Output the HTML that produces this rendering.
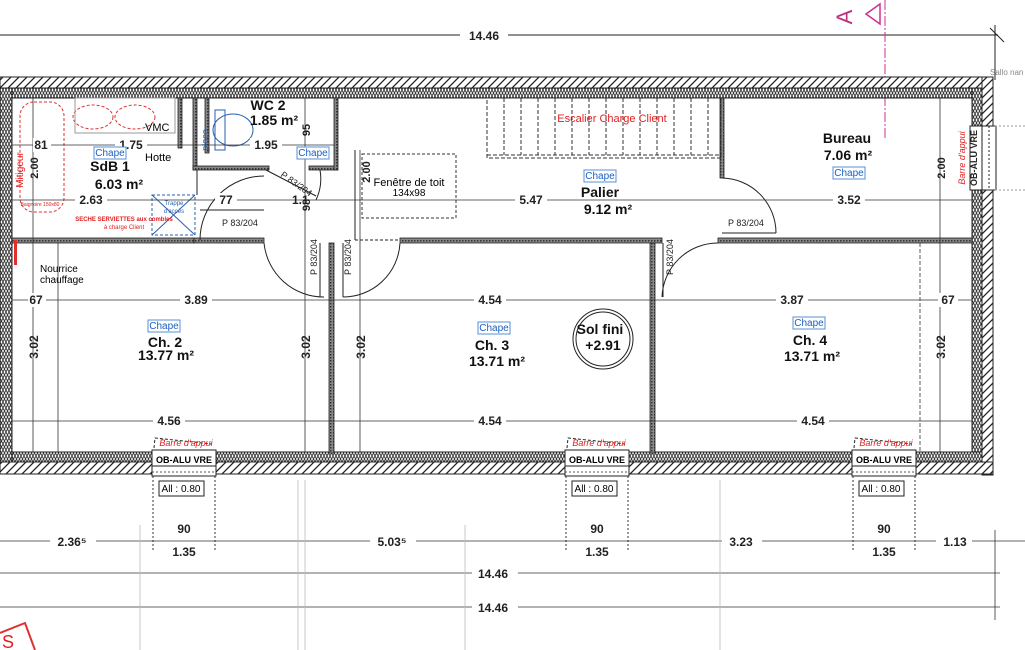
<!DOCTYPE html>
<html><head><meta charset="utf-8"><style>
html,body{margin:0;padding:0;background:#fff;}
svg{display:block;font-family:"Liberation Sans",Arial,sans-serif;}
.d{font-size:12px;font-weight:bold;fill:#222;}
.b{font-size:14px;font-weight:bold;fill:#111;}
.s{font-size:9px;fill:#222;}
.ch{font-size:10px;fill:#1a5fc0;}
.r{fill:#e02020;}
</style></head><body>
<svg width="1025" height="650" viewBox="0 0 1025 650" xmlns="http://www.w3.org/2000/svg">
<defs>
<pattern id="h" width="8" height="8" patternUnits="userSpaceOnUse"><rect width="8" height="8" fill="#fff"/><path d="M0 8 L8 0 M-2 2 L2 -2 M6 10 L10 6" stroke="#222" stroke-width="1.3"/></pattern>
<pattern id="z" width="6" height="6" patternUnits="userSpaceOnUse"><rect width="6" height="6" fill="#fff"/><path d="M0 0 L3 6 L6 0 M0 6 L3 0 L6 6" stroke="#333" stroke-width="0.9" fill="none"/></pattern>
<pattern id="p" width="3" height="3" patternUnits="userSpaceOnUse"><rect width="3" height="3" fill="#888"/><rect width="1.5" height="1.5" fill="#333"/></pattern>
</defs>

<!-- top dimension -->
<line x1="0" y1="35" x2="998" y2="35" stroke="#222"/>
<line x1="990" y1="28" x2="1004" y2="42" stroke="#222"/>
<line x1="995" y1="25" x2="995" y2="80" stroke="#222"/>
<rect x="460" y="27" width="48" height="16" fill="#fff"/>
<text x="484" y="40" class="d" text-anchor="middle" font-size="13">14.46</text>
<!-- section A -->
<line x1="885" y1="0" x2="885" y2="140" stroke="#d03090" stroke-dasharray="10 2 2 2"/>
<text x="845" y="24" fill="#c03080" font-size="22" transform="rotate(-90 845 17)" text-anchor="middle">A</text>
<path d="M880 4 L880 24 L866 14 Z" fill="none" stroke="#d03090" stroke-width="1.5"/>
<text x="990" y="75" font-size="8" fill="#888">Sallo nan</text>

<!-- outer walls -->
<rect x="0" y="77" width="993" height="11" fill="url(#h)" stroke="#222"/>
<rect x="0" y="88" width="982" height="10" fill="url(#z)" stroke="#222"/>
<rect x="982" y="77" width="11" height="398" fill="url(#h)" stroke="#222"/>
<rect x="972" y="88" width="10" height="375" fill="url(#z)" stroke="#222"/>
<rect x="0" y="452" width="982" height="10" fill="url(#z)" stroke="#222"/>
<rect x="0" y="462" width="993" height="12" fill="url(#h)" stroke="#222"/>
<rect x="0" y="88" width="12" height="374" fill="url(#z)" stroke="#222"/>
<!-- right window -->
<rect x="970" y="126" width="26" height="64" fill="#fff" stroke="#222"/>
<line x1="982" y1="126" x2="982" y2="190" stroke="#222"/>
<line x1="989" y1="126" x2="989" y2="190" stroke="#222" stroke-dasharray="2 2"/>
<text x="977" y="158" class="s" font-weight="bold" transform="rotate(-90 977 158)" text-anchor="middle" font-size="9">OB-ALU VRE</text>
<text x="965" y="158" font-size="9" font-style="italic" class="r" transform="rotate(-90 965 158)" text-anchor="middle">Barre d'appui</text>
<line x1="995" y1="126" x2="1025" y2="126" stroke="#999" stroke-dasharray="2 2"/>
<line x1="995" y1="190" x2="1025" y2="190" stroke="#999" stroke-dasharray="2 2"/>

<!-- bottom windows -->
<g>
<rect x="152" y="450" width="64" height="26" fill="#fff" stroke="#222"/><line x1="152" y1="466" x2="216" y2="466" stroke="#222"/><line x1="152" y1="472" x2="216" y2="472" stroke="#555" stroke-dasharray="2 2"/>
<text x="184" y="463" font-size="9" font-weight="bold" text-anchor="middle">OB-ALU VRE</text>
<path d="M154 448 L155 438 L212 444" fill="none" stroke="#222" stroke-dasharray="3 2"/>
<text x="186" y="446" font-size="9" font-style="italic" class="r" text-anchor="middle">Barre d'appui</text>
<rect x="159" y="481" width="45" height="15" fill="#fff" stroke="#222"/><text x="181" y="492" font-size="10" text-anchor="middle">All : 0.80</text>
<line x1="153" y1="476" x2="153" y2="550" stroke="#333" stroke-dasharray="2 2"/><line x1="215" y1="476" x2="215" y2="550" stroke="#333" stroke-dasharray="2 2"/>
</g>
<g transform="translate(413,0)">
<rect x="152" y="450" width="64" height="26" fill="#fff" stroke="#222"/><line x1="152" y1="466" x2="216" y2="466" stroke="#222"/><line x1="152" y1="472" x2="216" y2="472" stroke="#555" stroke-dasharray="2 2"/>
<text x="184" y="463" font-size="9" font-weight="bold" text-anchor="middle">OB-ALU VRE</text>
<path d="M154 448 L155 438 L212 444" fill="none" stroke="#222" stroke-dasharray="3 2"/>
<text x="186" y="446" font-size="9" font-style="italic" class="r" text-anchor="middle">Barre d'appui</text>
<rect x="159" y="481" width="45" height="15" fill="#fff" stroke="#222"/><text x="181" y="492" font-size="10" text-anchor="middle">All : 0.80</text>
<line x1="153" y1="476" x2="153" y2="550" stroke="#333" stroke-dasharray="2 2"/><line x1="215" y1="476" x2="215" y2="550" stroke="#333" stroke-dasharray="2 2"/>
</g>
<g transform="translate(700,0)">
<rect x="152" y="450" width="64" height="26" fill="#fff" stroke="#222"/><line x1="152" y1="466" x2="216" y2="466" stroke="#222"/><line x1="152" y1="472" x2="216" y2="472" stroke="#555" stroke-dasharray="2 2"/>
<text x="184" y="463" font-size="9" font-weight="bold" text-anchor="middle">OB-ALU VRE</text>
<path d="M154 448 L155 438 L212 444" fill="none" stroke="#222" stroke-dasharray="3 2"/>
<text x="186" y="446" font-size="9" font-style="italic" class="r" text-anchor="middle">Barre d'appui</text>
<rect x="159" y="481" width="45" height="15" fill="#fff" stroke="#222"/><text x="181" y="492" font-size="10" text-anchor="middle">All : 0.80</text>
<line x1="153" y1="476" x2="153" y2="550" stroke="#333" stroke-dasharray="2 2"/><line x1="215" y1="476" x2="215" y2="550" stroke="#333" stroke-dasharray="2 2"/>
</g>

<!-- interior walls -->
<g fill="url(#p)" stroke="#222" stroke-width="0.8">
<rect x="12" y="238" width="182" height="5"/>
<rect x="194" y="238" width="70" height="5"/>
<rect x="400" y="238" width="262" height="5"/>
<rect x="718" y="238" width="254" height="5"/>
<rect x="193" y="98" width="4" height="72"/>
<rect x="193" y="166" width="76" height="4"/>
<rect x="309" y="166" width="28" height="4"/>
<rect x="334" y="98" width="4" height="72"/>
<rect x="720" y="98" width="4" height="80"/>
<rect x="329" y="243" width="5" height="210"/>
<rect x="650" y="243" width="5" height="210"/>
<rect x="205" y="98" width="4" height="55"/>
<rect x="178" y="98" width="4" height="50"/>
</g>
<line x1="197" y1="170" x2="197" y2="195" stroke="#222"/>
<line x1="355" y1="150" x2="355" y2="240" stroke="#222"/>
<line x1="355" y1="240" x2="400" y2="240" stroke="#222" stroke-dasharray="3 2"/>
<line x1="320" y1="243" x2="320" y2="297" stroke="#222"/><line x1="343" y1="243" x2="343" y2="297" stroke="#222"/>
<line x1="663" y1="243" x2="663" y2="297" stroke="#222"/>
<!-- doors -->
<g fill="none" stroke="#222">
<path d="M200 240 A64 64 0 0 1 264 176"/><line x1="200" y1="210" x2="264" y2="210"/>
<path d="M264 243 A60 60 0 0 0 324 297"/>
<path d="M343 297 A57 57 0 0 0 400 243"/>
<path d="M662 297 A56 56 0 0 1 718 243"/>
<path d="M722 178 A55 55 0 0 1 776 233"/><line x1="722" y1="233" x2="776" y2="233"/>
<path d="M266 170 L316 196"/><path d="M320 170 A50 50 0 0 1 316 200"/>
</g>
<!-- stairs -->
<g stroke="#333" stroke-dasharray="4 2" fill="none">
<rect x="487" y="98" width="234" height="60"/>
<line x1="487" y1="155" x2="721" y2="155"/>
<path d="M504 98V155M521 98V155M538 98V155M555 98V155M572 98V155M589 98V155M606 98V155M623 98V155M640 98V155M657 98V155M674 98V155M691 98V155M708 98V155"/>
</g>
<text x="612" y="122" font-size="11" class="r" text-anchor="middle">Escalier Charge Client</text>
<rect x="362" y="154" width="94" height="64" fill="none" stroke="#333" stroke-dasharray="3 2"/>
<text x="409" y="186" font-size="11" text-anchor="middle">Fenêtre de toit</text>
<text x="409" y="196" font-size="10" text-anchor="middle">134x98</text>

<!-- SdB fixtures -->
<g fill="none" stroke="#e03030" stroke-dasharray="3 2">
<rect x="20" y="102" width="44" height="110" rx="14"/>
<ellipse cx="93" cy="117" rx="20" ry="12"/><ellipse cx="135" cy="117" rx="20" ry="12"/>
</g>
<rect x="75" y="98" width="100" height="35" fill="none" stroke="#999"/>
<rect x="152" y="195" width="43" height="40" fill="none" stroke="#2a5fb0" stroke-dasharray="3 2"/>
<path d="M152 195 L195 235 M195 195 L152 235" stroke="#2a5fb0"/>
<text x="174" y="205" font-size="6" fill="#2a5fb0" text-anchor="middle">Trappe</text>
<text x="174" y="213" font-size="6" fill="#2a5fb0" text-anchor="middle">d'accès</text>
<text x="124" y="221" font-size="6" font-weight="bold" class="r" text-anchor="middle">SECHE SERVIETTES aux combles</text>
<text x="124" y="229" font-size="6" class="r" text-anchor="middle">à charge Client</text>
<text x="40" y="206" font-size="5" class="r" text-anchor="middle">Baignoire 150x80</text>
<text x="23" y="170" font-size="10" class="r" transform="rotate(-90 23 170)" text-anchor="middle">Mitigeur</text>
<ellipse cx="233" cy="130" rx="20" ry="16" fill="none" stroke="#2a5fb0"/>
<rect x="215" y="110" width="10" height="40" fill="none" stroke="#2a5fb0"/>
<text x="208" y="140" font-size="9" fill="#2a5fb0" transform="rotate(-90 208 140)" text-anchor="middle">placo</text>
<rect x="14" y="240" width="3" height="25" fill="#e03030"/>

<!-- dimension lines (interior) -->
<g stroke="#333" stroke-width="0.8">
<line x1="12" y1="145" x2="334" y2="145"/>
<line x1="12" y1="200" x2="972" y2="200"/>
<line x1="12" y1="300" x2="972" y2="300"/>
<line x1="12" y1="421" x2="972" y2="421"/>
<line x1="33" y1="98" x2="33" y2="452"/>
<line x1="305" y1="98" x2="305" y2="452"/>
<line x1="360" y1="150" x2="360" y2="452"/>
<line x1="940" y1="98" x2="940" y2="452"/>
<line x1="58" y1="243" x2="58" y2="452"/>
<line x1="920" y1="243" x2="920" y2="452" stroke-dasharray="4 2"/>
</g>
<g class="d">
<rect x="33" y="138" width="18" height="14" fill="#fff"/><text x="41" y="149" text-anchor="middle">81</text>
<rect x="115" y="138" width="32" height="14" fill="#fff"/><text x="131" y="149" text-anchor="middle">1.75</text>
<rect x="250" y="138" width="32" height="14" fill="#fff"/><text x="266" y="149" text-anchor="middle">1.95</text>
<rect x="75" y="193" width="32" height="14" fill="#fff"/><text x="91" y="204" text-anchor="middle">2.63</text>
<rect x="215" y="193" width="22" height="14" fill="#fff"/><text x="226" y="204" text-anchor="middle">77</text>
<rect x="515" y="193" width="32" height="14" fill="#fff"/><text x="531" y="204" text-anchor="middle">5.47</text>
<rect x="833" y="193" width="32" height="14" fill="#fff"/><text x="849" y="204" text-anchor="middle">3.52</text>
<rect x="28" y="293" width="18" height="14" fill="#fff"/><text x="36" y="304" text-anchor="middle">67</text>
<rect x="180" y="293" width="32" height="14" fill="#fff"/><text x="196" y="304" text-anchor="middle">3.89</text>
<rect x="474" y="293" width="32" height="14" fill="#fff"/><text x="490" y="304" text-anchor="middle">4.54</text>
<rect x="776" y="293" width="32" height="14" fill="#fff"/><text x="792" y="304" text-anchor="middle">3.87</text>
<rect x="938" y="293" width="20" height="14" fill="#fff"/><text x="948" y="304" text-anchor="middle">67</text>
<rect x="153" y="414" width="32" height="14" fill="#fff"/><text x="169" y="425" text-anchor="middle">4.56</text>
<rect x="474" y="414" width="32" height="14" fill="#fff"/><text x="490" y="425" text-anchor="middle">4.54</text>
<rect x="797" y="414" width="32" height="14" fill="#fff"/><text x="813" y="425" text-anchor="middle">4.54</text>
<text x="38" y="347" transform="rotate(-90 38 347)" text-anchor="middle">3.02</text>
<text x="310" y="347" transform="rotate(-90 310 347)" text-anchor="middle">3.02</text>
<text x="365" y="347" transform="rotate(-90 365 347)" text-anchor="middle">3.02</text>
<text x="945" y="347" transform="rotate(-90 945 347)" text-anchor="middle">3.02</text>
<text x="38" y="168" transform="rotate(-90 38 168)" text-anchor="middle" font-size="11">2.00</text>
<text x="370" y="172" transform="rotate(-90 370 172)" text-anchor="middle" font-size="11">2.00</text>
<text x="945" y="168" transform="rotate(-90 945 168)" text-anchor="middle" font-size="11">2.00</text>
<text x="310" y="130" transform="rotate(-90 310 130)" text-anchor="middle" font-size="11">95</text>
<text x="310" y="205" transform="rotate(-90 310 205)" text-anchor="middle" font-size="11">98</text>
<text x="292" y="204">1.1</text>
</g>
<g class="s">
<text x="222" y="226">P 83/204</text>
<text x="728" y="226">P 83/204</text>
<text x="317" y="275" transform="rotate(-90 317 275)">P 83/204</text>
<text x="351" y="275" transform="rotate(-90 351 275)">P 83/204</text>
<text x="673" y="275" transform="rotate(-90 673 275)">P 83/204</text>
<text x="280" y="176" transform="rotate(35 280 176)">P 83/204</text>
</g>

<!-- room labels -->
<text x="110" y="171" class="b" text-anchor="middle">SdB 1</text>
<text x="119" y="189" class="b" text-anchor="middle">6.03 m²</text>
<text x="268" y="110" class="b" text-anchor="middle">WC 2</text>
<text x="274" y="125" class="b" text-anchor="middle">1.85 m²</text>
<text x="847" y="143" class="b" text-anchor="middle" font-weight="normal">Bureau</text>
<text x="848" y="160" class="b" text-anchor="middle" font-weight="normal">7.06 m²</text>
<text x="600" y="197" class="b" text-anchor="middle">Palier</text>
<text x="608" y="214" class="b" text-anchor="middle">9.12 m²</text>
<text x="165" y="347" class="b" text-anchor="middle" font-size="13" font-weight="normal">Ch. 2</text>
<text x="166" y="360" class="b" text-anchor="middle" font-size="13" font-weight="normal">13.77 m²</text>
<text x="492" y="350" class="b" text-anchor="middle" font-size="13" font-weight="normal">Ch. 3</text>
<text x="497" y="366" class="b" text-anchor="middle" font-size="13" font-weight="normal">13.71 m²</text>
<text x="810" y="345" class="b" text-anchor="middle" font-size="13" font-weight="normal">Ch. 4</text>
<text x="812" y="361" class="b" text-anchor="middle" font-size="13" font-weight="normal">13.71 m²</text>
<circle cx="603" cy="339" r="30" fill="none" stroke="#222"/><circle cx="603" cy="339" r="27" fill="none" stroke="#222"/>
<text x="600" y="334" class="b" text-anchor="middle">Sol fini</text>
<text x="603" y="350" class="b" text-anchor="middle">+2.91</text>
<text x="145" y="131" font-size="11" text-anchor="start">VMC</text>
<text x="145" y="161" font-size="11">Hotte</text>
<text x="40" y="272" font-size="10">Nourrice</text>
<text x="40" y="283" font-size="10">chauffage</text>
<g class="ch">
<rect x="94" y="147" width="32" height="12" fill="#fff" stroke="#5a8fd8"/><text x="110" y="156" text-anchor="middle">Chape</text>
<rect x="297" y="147" width="32" height="12" fill="#fff" stroke="#5a8fd8"/><text x="313" y="156" text-anchor="middle">Chape</text>
<rect x="584" y="170" width="32" height="12" fill="#fff" stroke="#5a8fd8"/><text x="600" y="179" text-anchor="middle">Chape</text>
<rect x="833" y="167" width="32" height="12" fill="#fff" stroke="#5a8fd8"/><text x="849" y="176" text-anchor="middle">Chape</text>
<rect x="148" y="320" width="32" height="12" fill="#fff" stroke="#5a8fd8"/><text x="164" y="329" text-anchor="middle">Chape</text>
<rect x="478" y="322" width="32" height="12" fill="#fff" stroke="#5a8fd8"/><text x="494" y="331" text-anchor="middle">Chape</text>
<rect x="793" y="317" width="32" height="12" fill="#fff" stroke="#5a8fd8"/><text x="809" y="326" text-anchor="middle">Chape</text>
</g>

<!-- bottom dimensions -->
<g stroke="#333" stroke-width="0.8">
<line x1="0" y1="541" x2="1025" y2="541"/>
<line x1="0" y1="573" x2="1000" y2="573"/>
<line x1="0" y1="607" x2="1000" y2="607"/>
<line x1="995" y1="530" x2="995" y2="620"/>
<line x1="140" y1="525" x2="140" y2="650" stroke="#bbb"/>
<line x1="298" y1="480" x2="298" y2="650" stroke="#bbb"/>
<line x1="305" y1="480" x2="305" y2="650" stroke="#bbb"/>
<line x1="465" y1="525" x2="465" y2="650" stroke="#bbb"/>
<line x1="720" y1="480" x2="720" y2="650" stroke="#bbb"/>
</g>
<g class="d" font-size="13">
<rect x="50" y="533" width="46" height="16" fill="#fff"/><text x="72" y="546" text-anchor="middle">2.36⁵</text>
<rect x="370" y="533" width="46" height="16" fill="#fff"/><text x="392" y="546" text-anchor="middle">5.03⁵</text>
<rect x="722" y="533" width="40" height="16" fill="#fff"/><text x="741" y="546" text-anchor="middle">3.23</text>
<rect x="936" y="533" width="36" height="16" fill="#fff"/><text x="955" y="546" text-anchor="middle">1.13</text>
<text x="184" y="533" text-anchor="middle">90</text><text x="184" y="556" text-anchor="middle">1.35</text>
<text x="597" y="533" text-anchor="middle">90</text><text x="597" y="556" text-anchor="middle">1.35</text>
<text x="884" y="533" text-anchor="middle">90</text><text x="884" y="556" text-anchor="middle">1.35</text>
<rect x="472" y="565" width="46" height="16" fill="#fff"/><text x="493" y="578" text-anchor="middle">14.46</text>
<rect x="472" y="599" width="46" height="16" fill="#fff"/><text x="493" y="612" text-anchor="middle">14.46</text>
</g>
<path d="M0 633 L25 623 L35 650" fill="none" stroke="#e03030" stroke-width="2"/>
<text x="2" y="648" font-size="18" class="r">S</text>
</svg>
</body></html>
